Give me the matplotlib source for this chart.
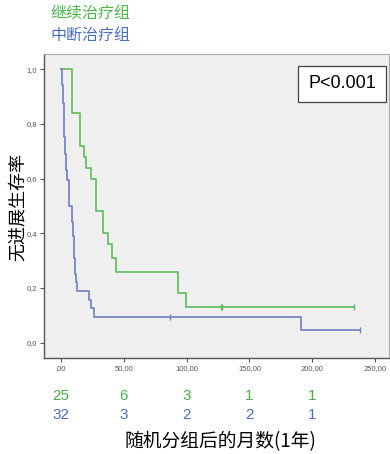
import numpy as np
import matplotlib
matplotlib.use('Agg')
import matplotlib.pyplot as plt

plt.rcParams['font.family'] = ['Noto Sans CJK SC', 'DejaVu Sans']

# continued treatment group (green)
cont_t = [0, 8.5, 15.5, 18.0, 19.6, 23.9, 28.0, 33.7, 37.7, 41.0, 43.8, 92.8, 99.5, 233.0]
cont_s = [1.0, 0.84, 0.72, 0.68, 0.64, 0.60, 0.48, 0.40, 0.36, 0.31, 0.26, 0.18, 0.13, 0.13]
cont_cens_t = [127.0, 128.5, 233.0]

# interrupted treatment group (blue)
stop_t = [0, 1.0, 1.6, 2.2, 2.8, 3.4, 4.0, 4.5, 6.4, 9.0, 9.6, 10.2, 10.6, 11.2, 11.8, 13.0,
          22.5, 23.9, 26.4, 190.8, 238.0]
stop_s = [1.0, 0.94, 0.875, 0.81, 0.75, 0.69, 0.63, 0.594, 0.50, 0.44, 0.39, 0.34, 0.31,
          0.25, 0.22, 0.19, 0.156, 0.125, 0.094, 0.047, 0.047]
stop_cens_t = [86.8, 238.0]

risk_t = [0, 50, 100, 150, 200]
risk_cont = [25, 6, 3, 1, 1]
risk_stop = [32, 3, 2, 2, 1]

x_ticks = [0, 50, 100, 150, 200, 250]
x_labels = [',00', '50,00', '100,00', '150,00', '200,00', '250,00']
y_ticks = [0, 0.2, 0.4, 0.6, 0.8, 1.0]
y_labels = ['0,0', '0,2', '0,4', '0,6', '0,8', '1,0']

green = '#5cbc5c'
blue = '#6f7fc0'


def step_value(ts, ss, t):
    idx = np.searchsorted(ts, t, side='right') - 1
    return ss[idx]


fig = plt.figure(figsize=(3.9, 4.54), dpi=100)
ax = fig.add_axes([44 / 390, 1 - 358 / 454, 345 / 390, 304 / 454])
ax.set_facecolor('#efefef')

ax.plot(cont_t, cont_s, drawstyle='steps-post', color=green, lw=1.2)
ax.plot(stop_t, stop_s, drawstyle='steps-post', color=blue, lw=1.2)
ax.plot(cont_cens_t, [step_value(cont_t, cont_s, t) for t in cont_cens_t], ls='none',
        marker='|', ms=5, mew=1.0, color=green)
ax.plot(stop_cens_t, [step_value(stop_t, stop_s, t) for t in stop_cens_t], ls='none',
        marker='|', ms=5, mew=1.0, color=blue)

ax.set_xlim(-13.5, 261)
ax.set_ylim(-0.056, 1.055)
ax.set_xticks(x_ticks)
ax.set_xticklabels(x_labels, family=['Liberation Sans'])
ax.set_yticks(y_ticks)
ax.set_yticklabels(y_labels, family=['Liberation Sans'])
ax.tick_params(labelsize=5.5, length=3, width=0.8, colors='#555555', pad=2)

for side in ['left', 'bottom']:
    ax.spines[side].set_color('#555555')
    ax.spines[side].set_linewidth(1.0)
for side in ['top', 'right']:
    ax.spines[side].set_color('#aaaaaa')
    ax.spines[side].set_linewidth(0.8)

# y label placed by hand so it stays inside the figure
fig.text(18 / 390, 1 - 207 / 454, '无进展生存率', fontsize=13, rotation=90,
         ha='center', va='center')

# p value box
fig.text(342 / 390, 1 - 84 / 454, 'P<0.001', ha='center', va='center', fontsize=13,
         family=['Liberation Sans'],
         bbox=dict(boxstyle='square,pad=0.55', fc='white', ec='#444444', lw=0.9))

# group legend
fig.text(50 / 390, 1 - 14 / 454, '继续治疗组', color='#4cb84c', fontsize=11.5, va='center')
fig.text(50 / 390, 1 - 35 / 454, '中断治疗组', color='#4a6ec0', fontsize=11.5, va='center')

# numbers at risk
for t, a, b in zip(risk_t, risk_cont, risk_stop):
    xf = ax.transData.transform((t, 0))[0] / fig.bbox.width
    fig.text(xf, 1 - 396 / 454, str(a), color='#4cae4c', fontsize=11, ha='center', va='center',
             family=['Liberation Sans'])
    fig.text(xf, 1 - 415 / 454, str(b), color='#4f6fb5', fontsize=11, ha='center', va='center',
             family=['Liberation Sans'])

fig.text(220 / 390, 1 - 442 / 454, '随机分组后的月数(1年)', fontsize=13.5, ha='center', va='center')

fig.savefig('out.png', dpi=100)
